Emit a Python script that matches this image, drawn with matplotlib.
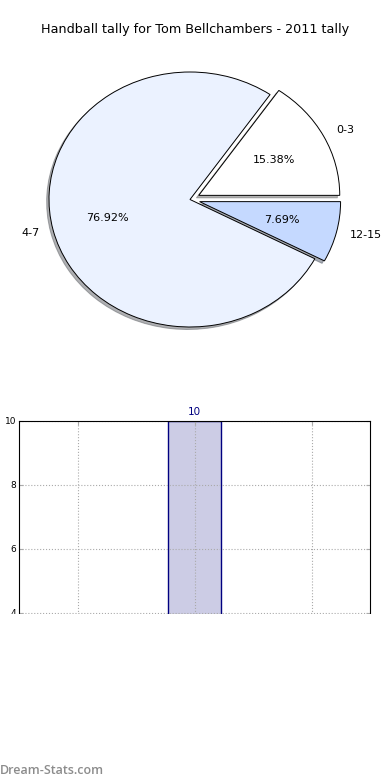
import matplotlib
matplotlib.use("Agg")
import matplotlib.pyplot as plt
from matplotlib.patches import Rectangle

title = "Handball tally for Tom Bellchambers - 2011 tally"
groups = ["0-3", "4-7", "12-15"]
tallies = [2, 10, 1]
explode = [0.07, 0.0, 0.07]
pie_colours = ["#ffffff", "#ebf2ff", "#c5d9ff"]

W, H = 390, 780
fig = plt.figure(figsize=(W / 100, H / 100), dpi=100)


def box(x0, y0, x1, y1):
    """ pixel box (top-left origin) -> figure fraction rect """
    return [x0 / W, 1 - y1 / H, (x1 - x0) / W, (y1 - y0) / H]


fig.text(0.5, 1 - 30 / H, title, ha="center", va="center", fontsize=9.2)

# pie
ax = fig.add_axes(box(49, 72, 331, 327))
ax.pie(tallies, labels=groups, explode=explode, colors=pie_colours,
       autopct="%.2f%%", startangle=0,
       shadow={"ox": -0.012, "oy": -0.014, "shade": 0.6},
       wedgeprops={"edgecolor": "black", "linewidth": 0.7},
       textprops={"fontsize": 8})
ax.set_aspect("auto")
ax.set_xlim(-1, 1)
ax.set_ylim(-1, 1)
ax.axis("off")

# bar chart (lower part hidden, as in the source image)
bx = fig.add_axes(box(19, 421, 370, 741))
pos = range(-1, 2)
bx.bar(pos, tallies, width=0.45, color="navy", alpha=0.2)
bx.bar(pos, tallies, width=0.45, fill=False, edgecolor="navy", linewidth=1)
for p, v in zip(pos, tallies):
    bx.text(p, v + 0.12, str(v), ha="center", va="bottom", color="navy", fontsize=7.5)
bx.set_xlim(-1.5, 1.5)
bx.set_ylim(0, 10)
bx.set_xticks(list(pos))
bx.set_xticklabels([])
bx.set_yticks(range(0, 11, 2))
bx.tick_params(direction="in", length=3, labelsize=6.5, pad=2, top=True, right=True,
               color="#aaaaaa")
bx.grid(True, linestyle=":", color="#aaaaaa", linewidth=0.8)
bx.set_ylabel("Handball Tally", fontsize=7)
bx.yaxis.set_label_coords(-0.058, 0.5)

fig.patches.append(Rectangle((0, 0), 1, 1 - 614 / H, transform=fig.transFigure,
                             facecolor="white", edgecolor="none", zorder=10))
fig.text(0.0, 1 - 771 / H, "Dream-Stats.com", ha="left", va="center",
         fontsize=9, color="#8c8c8c", family="Open Sans", fontweight="semibold",
         zorder=11)

fig.savefig("out.png", dpi=100)
